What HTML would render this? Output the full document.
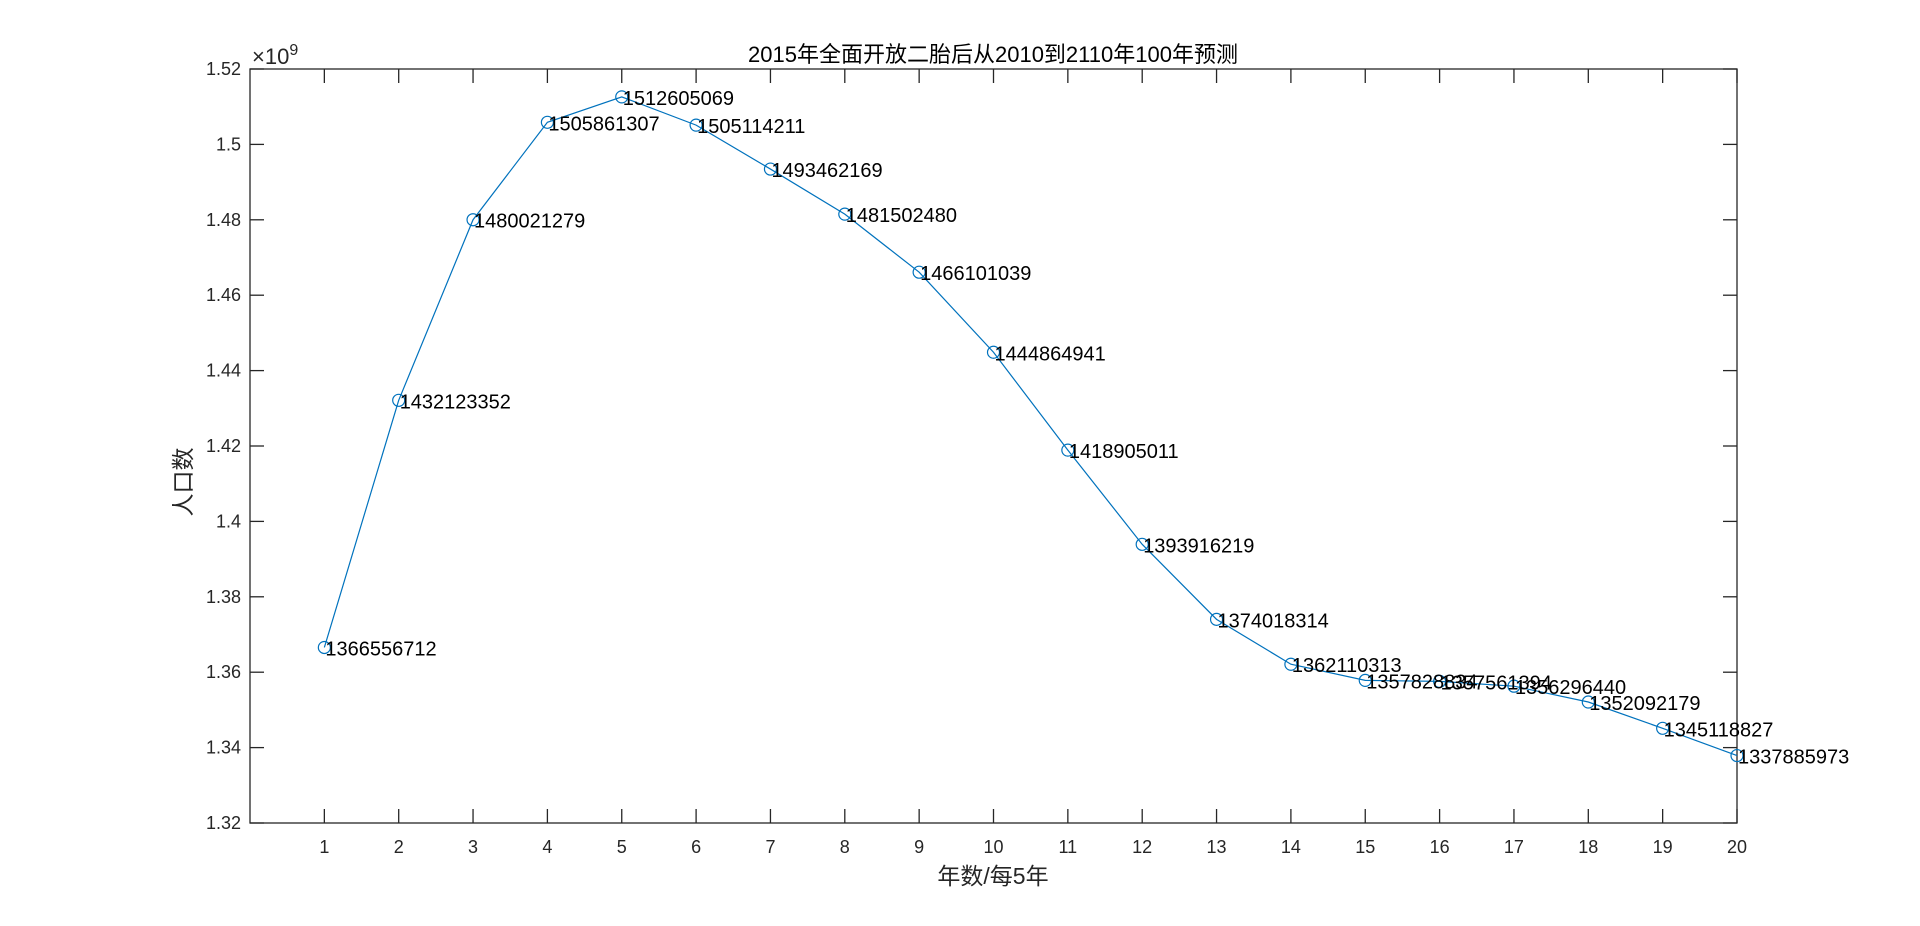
<!DOCTYPE html>
<html><head><meta charset="utf-8">
<style>
html,body{margin:0;padding:0;background:#fff;}
svg{display:block;font-family:"Liberation Sans","Noto Sans CJK SC",sans-serif;}
</style></head>
<body>
<svg id="chart" width="1920" height="926" viewBox="0 0 1920 926" xmlns="http://www.w3.org/2000/svg">
<rect width="1920" height="926" fill="#fff"/>
</svg>
<script>
const xCategories = [1,2,3,4,5,6,7,8,9,10,11,12,13,14,15,16,17,18,19,20];
const popValues = [1366556712,1432123352,1480021279,1505861307,1512605069,1505114211,1493462169,1481502480,1466101039,1444864941,1418905011,1393916219,1374018314,1362110313,1357828834,1357561394,1356296440,1352092179,1345118827,1337885973];
const yTickValues = [1.32,1.34,1.36,1.38,1.40,1.42,1.44,1.46,1.48,1.50,1.52];
const yTickLabels = ["1.32","1.34","1.36","1.38","1.4","1.42","1.44","1.46","1.48","1.5","1.52"];

const L=250,R=1737,T=69,B=823;
const xMin=0,xMax=20,yMin=1.32e9,yMax=1.52e9;
const xs=v=>L+(v-xMin)/(xMax-xMin)*(R-L);
const ys=v=>B-(v-yMin)/(yMax-yMin)*(B-T);
const NS="http://www.w3.org/2000/svg";
const svg=document.getElementById('chart');
function mk(tag,attrs,parent){const e=document.createElementNS(NS,tag);for(const k in attrs)e.setAttribute(k,attrs[k]);(parent||svg).appendChild(e);return e;}

const box=mk('rect',{x:L,y:T,width:R-L,height:B-T,fill:'none',stroke:'#262626','stroke-width':1.3});



xCategories.forEach(c=>{
  const x=xs(c);
  const t1=mk('line',{x1:x,y1:B,x2:x,y2:B-14,stroke:'#262626','stroke-width':1.3});
  
  
  const t2=mk('line',{x1:x,y1:T,x2:x,y2:T+14,stroke:'#262626','stroke-width':1.3});
  
  
  const lb=mk('text',{x:x,y:853,'text-anchor':'middle','font-size':18,fill:'#262626'});
  lb.textContent=c;
  
  
});
yTickValues.forEach((v,i)=>{
  const y=ys(v*1e9);
  const t1=mk('line',{x1:L,y1:y,x2:L+14,y2:y,stroke:'#262626','stroke-width':1.3});
  
  
  const t2=mk('line',{x1:R,y1:y,x2:R-14,y2:y,stroke:'#262626','stroke-width':1.3});
  
  
  const lb=mk('text',{x:L-9,y:y+6,'text-anchor':'end','font-size':18,fill:'#262626'});
  lb.textContent=yTickLabels[i];
  
  
});

const pts=xCategories.map((c,i)=>xs(c)+','+ys(popValues[i])).join(' ');
const pl=mk('polyline',{points:pts,fill:'none',stroke:'#0072BD','stroke-width':1.2});


xCategories.forEach((c,i)=>{
  const cx=xs(c),cy=ys(popValues[i]);
  const m=mk('circle',{cx:cx,cy:cy,r:6,fill:'none',stroke:'#0072BD','stroke-width':1.2});
  
  
});
xCategories.forEach((c,i)=>{
  const cx=xs(c),cy=ys(popValues[i]);
  const t=mk('text',{x:cx+1,y:cy+8,'font-size':20,fill:'#000'});
  t.textContent=popValues[i];
  
  
});
</script>
<svg style="position:absolute;left:0;top:0" width="1920" height="926">
<text x="993" y="62" text-anchor="middle" font-size="22" fill="#000" font-family="Liberation Sans, Noto Sans CJK SC, sans-serif">2015年全面开放二胎后从2010到2110年100年预测</text>
<text x="252" y="64" font-size="22" fill="#262626" font-family="Liberation Sans, sans-serif">×10<tspan font-size="16" dy="-9">9</tspan></text>
<text transform="translate(191,482) rotate(-90)" text-anchor="middle" font-size="23" fill="#262626" font-family="Liberation Sans, Noto Sans CJK SC, sans-serif">人口数</text>
<text x="993" y="884" text-anchor="middle" font-size="23" fill="#262626" font-family="Liberation Sans, Noto Sans CJK SC, sans-serif">年数/每5年</text>
</svg>
</body></html>
